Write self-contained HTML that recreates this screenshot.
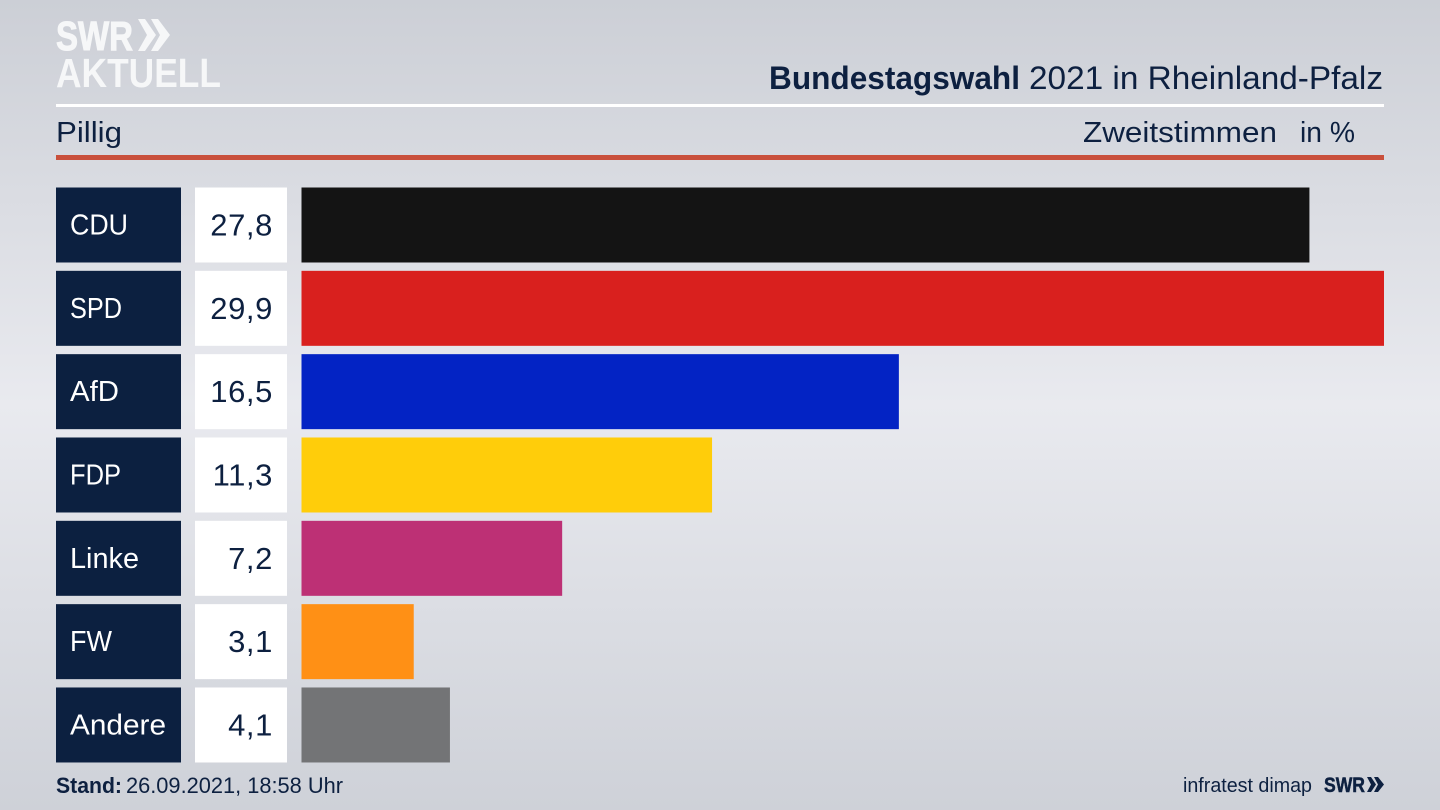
<!DOCTYPE html>
<html lang="de">
<head>
<meta charset="utf-8">
<title>Bundestagswahl 2021 in Rheinland-Pfalz – Pillig</title>
<style>
html,body{margin:0;padding:0;width:1440px;height:810px;overflow:hidden;background:#dcdee4}
svg{display:block;position:absolute;left:0;top:0}
text{font-family:"Liberation Sans",sans-serif}
</style>
</head>
<body>
<svg id="chart" width="1440" height="810" viewBox="0 0 1440 810" xmlns="http://www.w3.org/2000/svg">
  <defs>
    <linearGradient id="bg" x1="0" y1="0" x2="0" y2="1">
      <stop offset="0" stop-color="#cccfd6"/>
      <stop offset="0.5" stop-color="#e9eaef"/>
      <stop offset="1" stop-color="#ced1d8"/>
    </linearGradient>
  </defs>
  <rect x="0" y="0" width="1440" height="810" fill="url(#bg)"/>

  <g fill="#f6f7f8">
    <text x="56" y="50" font-size="41" font-weight="700" textLength="77" lengthAdjust="spacingAndGlyphs" stroke="#f6f7f8" stroke-width="1">SWR</text>
    <path d="M138 19h7l11 16-11 16h-7l9-16zM151 19h7l12 16-12 16h-7l9-16z"/>
    <text x="56" y="87" font-size="41" font-weight="700" textLength="165" lengthAdjust="spacingAndGlyphs">AKTUELL</text>
  </g>

  <g fill="#0d2040">
    <text x="769" y="89" font-size="32" font-weight="700" textLength="251" lengthAdjust="spacingAndGlyphs">Bundestagswahl</text>
    <text x="1029" y="89" font-size="32" textLength="354" lengthAdjust="spacingAndGlyphs">2021 in Rheinland-Pfalz</text>
  </g>
  <rect x="56" y="104" width="1328" height="3" fill="#ffffff"/>
  <text x="56" y="142" font-size="29" fill="#0d2040" textLength="66" lengthAdjust="spacingAndGlyphs">Pillig</text>
  <text x="1083" y="142" font-size="29" fill="#0d2040" textLength="194" lengthAdjust="spacingAndGlyphs">Zweitstimmen</text>
  <text x="1300" y="142" font-size="29" fill="#0d2040" textLength="55" lengthAdjust="spacingAndGlyphs">in %</text>
  <rect x="56" y="155" width="1328" height="5" fill="#c9503c"/>

  <g id="rows"></g>

  <g fill="#0d2040">
    <text x="56" y="793" font-size="22" font-weight="700" textLength="66" lengthAdjust="spacingAndGlyphs">Stand:</text>
    <text x="126" y="793" font-size="22" textLength="217" lengthAdjust="spacingAndGlyphs">26.09.2021, 18:58 Uhr</text>
  </g>
  <text x="1183" y="792" font-size="20" fill="#0d2040" textLength="129" lengthAdjust="spacingAndGlyphs">infratest dimap</text>
  <g fill="#0d2040">
    <text x="1324" y="792" font-size="21" font-weight="700" textLength="41" lengthAdjust="spacingAndGlyphs" stroke="#0d2040" stroke-width="0.5">SWR</text>
    <path d="M1367 777h4l5 7.500-5 7.500h-4l4-7.500zM1374 777h4l6 7.500-6 7.500h-4l4-7.500z"/>
  </g>
</svg>
<script>
const parties = ["CDU", "SPD", "AfD", "FDP", "Linke", "FW", "Andere"];
const shares = [27.84, 29.9, 16.5, 11.34, 7.2, 3.1, 4.1];
const printedShares = ["27,8", "29,9", "16,5", "11,3", "7,2", "3,1", "4,1"];
const partyColors = ["#141414", "#d9201e", "#0323c4", "#ffcd0a", "#bd3075", "#ff9015", "#737476"];

const svgNS = "http://www.w3.org/2000/svg";
const rows = document.getElementById("rows");
const axisMax = 29.9;
const barLeft = 301.5;
const barMaxWidth = 1082.5;
const rowTop = 187.5;
const rowStep = 83.33;
const rowHeight = 75;
const labelFit = { CDU: 58, SPD: 52, AfD: 49, FDP: 51, Linke: 69, FW: 42, Andere: 96 };

function xScale(v) { return v / axisMax * barMaxWidth; }
function yScale(i) { return rowTop + i * rowStep; }

function make(tag, attrs, parent) {
  const el = document.createElementNS(svgNS, tag);
  for (const k in attrs) el.setAttribute(k, attrs[k]);
  parent.appendChild(el);
  return el;
}

parties.forEach(function (party, i) {
  const y = yScale(i);
  const key = party.toLowerCase();

  const row = make("g", {}, rows);
  
  

  const labelBox = make("rect", { x: 56, y: y, width: 125, height: rowHeight, fill: "#0c2040" }, row);
  
  

  const label = make("text", { x: 70, y: y + 47, "font-size": 28.5, fill: "#ffffff", textLength: labelFit[party], lengthAdjust: "spacingAndGlyphs" }, row);
  
  
  label.textContent = party;

  const valueBox = make("rect", { x: 195, y: y, width: 92, height: rowHeight, fill: "#ffffff" }, row);
  
  

  const value = make("text", { x: 273, y: y + 48, "font-size": 31, "text-anchor": "end", "letter-spacing": 0.6, fill: "#0d2040" }, row);
  
  
  value.textContent = printedShares[i];

  const bar = make("rect", { x: barLeft, y: y, width: xScale(shares[i]), height: rowHeight, fill: partyColors[i] }, row);
  
  
});
</script>
</body>
</html>
